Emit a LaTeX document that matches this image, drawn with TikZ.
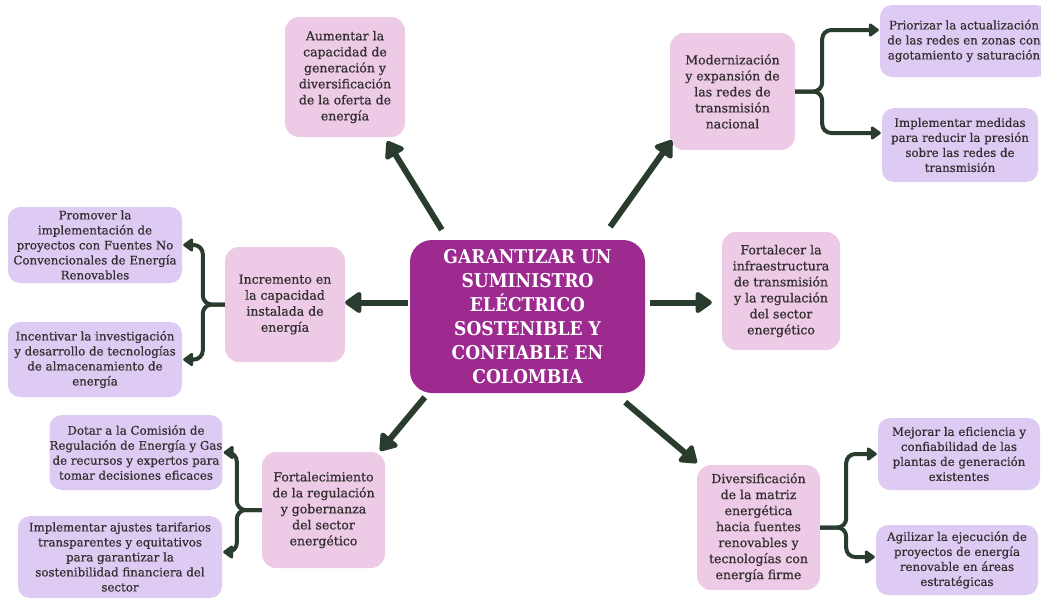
\documentclass[tikz,border=0pt]{standalone}
\usepackage{fontspec}
\setmainfont[FakeBold=0.5]{DejaVu Serif}
\newfontfamily\hubfont{DejaVu Serif Condensed}
\newfontfamily\boxfont[FakeBold=0.6]{DejaVu Serif}
\usetikzlibrary{calc}
\usetikzlibrary{arrows.meta}
\definecolor{hubpurple}{HTML}{9C2A8F}
\definecolor{topicpink}{HTML}{EDCAE6}
\definecolor{leaflilac}{HTML}{DDCBF3}
\definecolor{arrowgreen}{HTML}{2A3C2E}
\definecolor{inkgray}{HTML}{332E2F}
\tikzstyle{hub}=[fill=hubpurple,rounded corners=22pt,text=white,align=center,inner sep=0pt,font=\hubfont\bfseries\fontsize{19}{24}\selectfont]
\tikzstyle{topic}=[fill=topicpink,rounded corners=14pt,text=inkgray,align=center,inner sep=0pt,font=\boxfont\fontsize{12.5}{16}\selectfont]
\tikzstyle{leaf}=[fill=leaflilac,rounded corners=12pt,text=inkgray,align=center,inner sep=0pt,font=\boxfont\fontsize{11.8}{15}\selectfont]
\tikzstyle{spoke}=[draw=arrowgreen,line width=6pt,-{Triangle[length=18pt,width=24pt,round]}]
\tikzstyle{branch}=[draw=arrowgreen,line width=4pt,rounded corners=9pt,shorten >=1pt,-{Triangle[length=11pt,width=15pt,round]}]
\tikzset{boxsize/.style 2 args={minimum width=#1pt,minimum height=#2pt}}

\begin{document}
\begin{tikzpicture}[x=1pt,y=-1pt]
  \useasboundingbox (0,0) rectangle (1041,600);
  % centre
  \node[hub,boxsize={235}{153}] (hub) at (527.5,316.5) {GARANTIZAR UN\\SUMINISTRO\\ELÉCTRICO\\SOSTENIBLE Y\\CONFIABLE EN\\COLOMBIA};
  % first ring
  \node[topic,boxsize={120}{120}] (aumentar) at (345,77) {Aumentar la\\capacidad de\\generación y\\diversificación\\de la oferta de\\energía};
  \node[topic,boxsize={125}{117}] (moderniz) at (732.5,91.5) {Modernización\\y expansión de\\las redes de\\transmisión\\nacional};
  \node[topic,boxsize={118}{118}] (fortalecer) at (781,291) {Fortalecer la\\infraestructura\\de transmisión\\y la regulación\\del sector\\energético};
  \node[topic,boxsize={120}{115}] (incremento) at (285,304.5) {Incremento en\\la capacidad\\instalada de\\energía};
  \node[topic,boxsize={123}{116}] (fortalecim) at (323.5,510) {Fortalecimiento\\de la regulación\\y gobernanza\\del sector\\energético};
  \node[topic,boxsize={123}{125}] (diversif) at (758.5,527.5) {Diversificación\\de la matriz\\energética\\hacia fuentes\\renovables y\\tecnologías con\\energía firme};
  % second ring
  \node[leaf,boxsize={168}{72}] (priorizar) at (964,41) {Priorizar la actualización\\de las redes en zonas con\\agotamiento y saturación};
  \node[leaf,boxsize={156}{74}] (medidas) at (960,145) {Implementar medidas\\para reducir la presión\\sobre las redes de\\transmisión};
  \node[leaf,boxsize={174}{76}] (promover) at (95,245) {Promover la\\implementación de\\proyectos con Fuentes No\\Convencionales de Energía\\Renovables};
  \node[leaf,boxsize={174}{75}] (incentivar) at (95,359.5) {Incentivar la investigación\\y desarrollo de tecnologías\\de almacenamiento de\\energía};
  \node[leaf,boxsize={172}{75}] (dotar) at (136,452.5) {Dotar a la Comisión de\\Regulación de Energía y Gas\\de recursos y expertos para\\tomar decisiones eficaces};
  \node[leaf,boxsize={204}{82}] (ajustes) at (120,557) {Implementar ajustes tarifarios\\transparentes y equitativos\\para garantizar la\\sostenibilidad financiera del\\sector};
  \node[leaf,boxsize={162}{72}] (mejorar) at (959,454) {Mejorar la eficiencia y\\confiabilidad de las\\plantas de generación\\existentes};
  \node[leaf,boxsize={162}{70}] (agilizar) at (957,560) {Agilizar la ejecución de\\proyectos de energía\\renovable en áreas\\estratégicas};
  % spokes
  \draw[spoke] ([xshift=32pt,yshift=10pt]hub.north west) -- ([xshift=-18pt,yshift=-4pt]aumentar.south east);
  \draw[spoke] ([xshift=-35pt,yshift=13pt]hub.north east) -- ([xshift=2pt,yshift=10pt]moderniz.south west);
  \draw[spoke] ([xshift=-2pt,yshift=14pt]hub.west) -- ([yshift=14pt]hub.west -| incremento.east);
  \draw[spoke] ([xshift=5pt,yshift=14pt]hub.east) -- ([xshift=-10pt,yshift=14pt]hub.east -| fortalecer.west);
  \draw[spoke] ([xshift=15pt,yshift=-4pt]hub.south west) -- ([xshift=-5pt,yshift=1pt]fortalecim.north east);
  \draw[spoke] ([xshift=-20pt,yshift=-9pt]hub.south east) -- ([yshift=2pt]diversif.north west);
  % forks
  \draw[branch] (incremento.west) -- ++(-22,0) |- (promover.east);
  \draw[branch] (incremento.west) -- ++(-22,0) |- (incentivar.east);
  \draw[branch] (moderniz.east) -- ++(27,0) |- ([yshift=11pt]priorizar.west);
  \draw[branch] (moderniz.east) -- ++(27,0) |- ([yshift=12pt]medidas.west);
  \draw[branch] (fortalecim.west) -- ++(-25,0) |- (dotar.east);
  \draw[branch] (fortalecim.west) -- ++(-25,0) |- ([yshift=5pt]ajustes.east);
  \draw[branch] (diversif.east) -- ++(26,0) |- (mejorar.west);
  \draw[branch] (diversif.east) -- ++(26,0) |- ([yshift=3pt]agilizar.west);
\end{tikzpicture}
\end{document}
